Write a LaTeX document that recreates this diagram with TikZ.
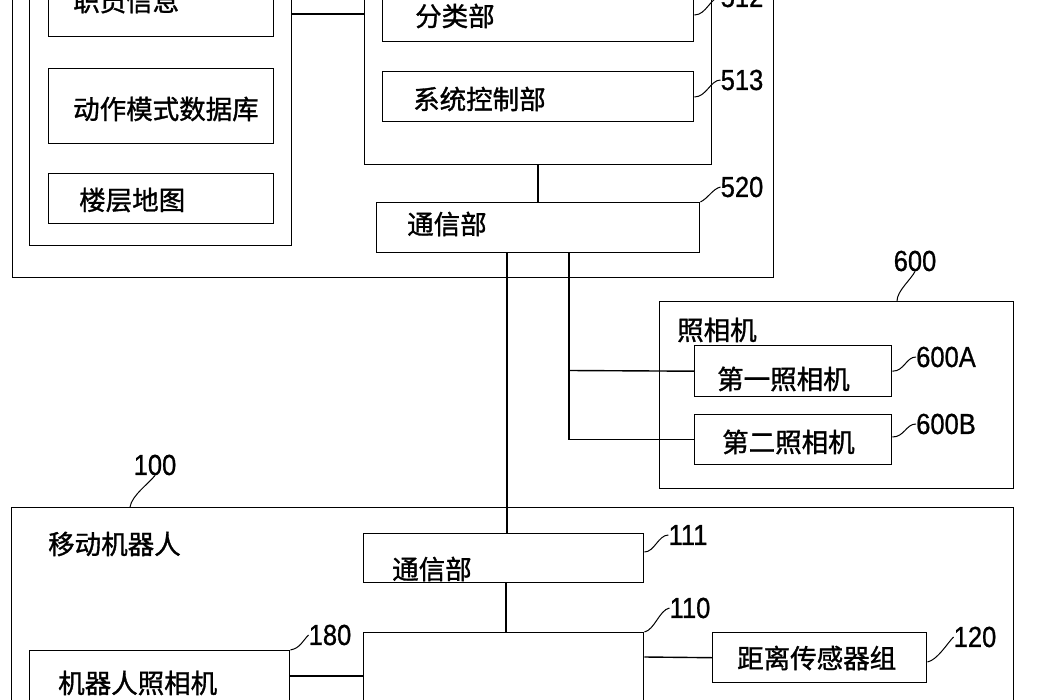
\documentclass[tikz,border=0pt]{standalone}
\usepackage{fontspec}
\newfontfamily\cjk[FakeBold=1.2]{Noto Sans CJK SC}
\newfontfamily\numfont[FakeStretch=0.88,FakeBold=0.8]{Liberation Sans}
\tikzset{
  box/.style={draw, line width=1.4pt, inner sep=0pt, anchor=north west},
  txt/.style={inner sep=0pt, anchor=west, font=\cjk\fontsize{26.5}{26.5}\selectfont},
  num/.style={inner sep=0pt, font=\numfont\fontsize{29}{29}\selectfont},
  conn/.style={line width=1.4pt},
  lead/.style={line width=1pt}
}
\newcommand\mybox[5]{\node[box, minimum width={#4-#2}, minimum height={#5-#3}] (#1) at (#2,#3) {};}
\begin{document}
\begin{tikzpicture}[x=1pt,y=-1pt]
\useasboundingbox (0,0) rectangle (1048,700);
\clip (0,0) rectangle (1048,700);
% server side
\mybox{server}{12}{-40}{773}{277}
\mybox{db}{29}{-30}{291}{245}
\mybox{staff}{48}{-20}{273}{36}
\mybox{motion}{48}{68}{273}{143}
\mybox{floor}{48}{173}{273}{223}
\mybox{ctrl}{364}{-30}{711}{164}
\mybox{classify}{382}{-20}{693}{41}
\mybox{sysctl}{382}{71}{693}{121}
\mybox{comm}{376}{202}{699}{252}
\node[txt] (tstaff) at (73,1) {职员信息};
\node[txt] (tmotion) at (73,109) {动作模式数据库};
\node[txt] (tfloor) at (79,200) {楼层地图};
\node[txt] (tclassify) at (415,16) {分类部};
\node[txt] (tsysctl) at (413,99) {系统控制部};
\node[txt] (tcomm) at (407,224) {通信部};
\node[num] (l512) at (742,-3) {512};
\node[num] (l513) at (742,80) {513};
\node[num] (l520) at (742,187) {520};
\draw[conn] (db.east |- 0,14) -- (ctrl.west |- 0,14);
\draw[conn] (ctrl.south -| 538,0) -- (comm.north -| 538,0);
\draw[lead] (classify.east |- 0,15) .. controls +(12,0) and +(-10,0) .. (l512.west);
\draw[lead] (sysctl.east |- 0,97) .. controls +(12,0) and +(-10,0) .. (l513.west);
\draw[lead] (comm.north east) .. controls +(8,-4) and +(-8,2) .. (l520.west);
% cameras
\mybox{cams}{659}{301}{1013}{488}
\mybox{camA}{694}{345}{891}{396}
\mybox{camB}{694}{414}{891}{464}
\node[txt] (tcams) at (677,330) {照相机};
\node[txt] (tcamA) at (717,379) {第一照相机};
\node[txt] (tcamB) at (722,442) {第二照相机};
\node[num] (l600) at (915,261) {600};
\node[num] (l600A) at (946,357) {600A};
\node[num] (l600B) at (946,424) {600B};
\draw[lead] (cams.north -| 897,0) .. controls +(0,-10) and +(-4,8) .. (l600.south);
\draw[lead] (camA.east) .. controls +(12,0) and +(-10,0) .. (l600A.west);
\draw[lead] (camB.east |- 0,437) .. controls +(12,0) and +(-10,0) .. (l600B.west);
\coordinate (jA) at (569,370.5);
\draw[conn] (comm.south -| jA) |- (camB.west);
\draw[conn] (jA) -- (camA.west);
% robot
\mybox{robot}{11}{507}{1013}{760}
\mybox{rcomm}{363}{533}{643}{582}
\mybox{rctrl}{363}{632}{643}{760}
\mybox{sensor}{712}{632}{926}{682}
\mybox{rcam}{29}{650}{289}{760}
\node[txt] (trobot) at (48,544) {移动机器人};
\node[txt] (trcomm) at (392,569) {通信部};
\node[txt] (tsensor) at (737,658) {距离传感器组};
\node[txt] (trcam) at (58,683) {机器人照相机};
\node[num] (l100) at (155,465) {100};
\node[num] (l111) at (688,535) {111};
\node[num] (l110) at (690,608) {110};
\node[num] (l120) at (975,637) {120};
\node[num] (l180) at (330,635) {180};
\draw[conn] (comm.south -| 507,0) -- (rcomm.north -| 507,0);
\draw[conn] (rcomm.south -| 506,0) -- (rctrl.north -| 506,0);
\draw[conn] (rctrl.east |- 0,657) -- (sensor.west);
\draw[conn] (rcam.east |- 0,676) -- (rctrl.west |- 0,676);
\draw[lead] (robot.north -| 130,0) .. controls +(2,-12) and +(-6,8) .. (l100.south);
\draw[lead] (rcomm.east |- 0,552) .. controls +(10,0) and +(-10,0) .. (l111.west);
\draw[lead] (rctrl.north east) .. controls +(10,-2) and +(-10,2) .. (l110.west);
\draw[lead] (sensor.east |- 0,662) .. controls +(10,-2) and +(-6,6) .. (l120.west);
\draw[lead] (rcam.north east) .. controls +(10,-2) and +(-6,6) .. (l180.west);
\end{tikzpicture}
\end{document}
